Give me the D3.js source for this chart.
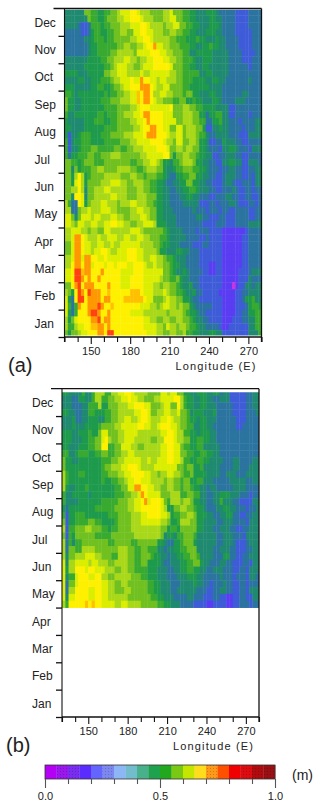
<!DOCTYPE html>
<html>
<head>
<meta charset="utf-8">
<script src="https://cdn.jsdelivr.net/npm/d3@7"></script>
<style>
  html, body { margin: 0; padding: 0; background: #fff; }
  svg { display: block; }
  text { font-family: "Liberation Sans", Arial, sans-serif; fill: #222; }
</style>
</head>
<body>
<div id="chart"></div>
<script>
const months = ["Jan", "Feb", "Mar", "Apr", "May", "Jun", "Jul", "Aug", "Sep", "Oct", "Nov", "Dec"];
const lonTicks = d3.range(130, 281, 10);
const lonLabels = [150, 180, 210, 240, 270];
const legendTicks = d3.range(0, 1.01, 0.1);
const legendLabels = [0, 0.5, 1];
const legendColors = ["#b400f5", "#9a18ee", "#7a2cf0", "#5a2cff", "#6464ff", "#7c88f0", "#8cb6f5", "#72bccb",
  "#48b08a", "#1ea24e", "#22a81e", "#78c814", "#c4e600", "#ffdc1c", "#ff9a18", "#ff5000", "#f00000", "#dc0c10", "#b00c10", "#981014"];
const stippled = [1, 2, 5, 14, 17, 18, 19];
const heatLevels = "abcdefghijklmn";
const heatColors = ["#d030e0", "#5a3cf2", "#3f5cd8", "#2b74a0", "#1f8a70", "#1e9a4c", "#38aa30", "#70c020",
  "#a8d818", "#dcee00", "#fff000", "#ffc000", "#ff9800", "#ff4010"];

// each row is level + longitude where that level ends, top row = end of December, 4 rows a month
const rowsA = [
  "e145 h148 i150 g155 f158 g163 h168 i172 j180 k183 j186 i195 h205 i209 j212 h218 g225 f230 e237 f243 e247 d258 c268 d280",
  "e143 c145 e147 h150 g155 f158 g162 h170 i175 j180 k187 j190 i197 h204 i209 j214 h219 g225 f230 e238 f244 e248 d258 c269 d280",
  "e139 d142 c146 d148 f150 g156 f160 g165 h172 i178 j186 k191 j195 i203 h207 i212 j216 h221 g226 f232 e240 f246 e250 d260 c270 d280",
  "d142 c146 d148 f151 g157 f161 g166 h172 i177 h181 j187 k192 j197 i203 h208 i213 h219 g224 f230 e236 f243 e248 d260 c271 d280",
  "d145 e149 f152 g158 f162 g167 h178 i183 j188 k194 j197 i208 h215 g222 f228 g232 f237 e243 f247 e252 d262 c271 d280",
  "d146 e149 f153 g168 h174 i180 h183 i188 j192 k196 m198 k200 j205 i210 h217 g223 f229 e233 f238 g242 f246 e252 d262 c272 d280",
  "d147 e150 f155 g165 h170 i181 h185 j195 k202 j207 i212 h219 g225 e230 f242 e253 d263 c273 d280",
  "e147 f157 g162 h167 i173 j178 i183 h187 i192 j197 k205 j209 i214 h220 g226 f230 e234 f241 e253 d264 c272 d280",
  "e145 f158 g163 h166 i170 j176 i181 h186 i190 j197 k208 j212 h219 g225 f230 e234 f240 e254 d268 c272 d280",
  "f140 e146 f160 h165 i170 j177 i186 j190 i195 j209 i213 h220 g232 e236 f241 e255 d280",
  "e140 f145 e149 f157 g163 h167 i172 j178 k182 j186 m190 k193 j198 i202 j207 i213 h219 g226 f236 e241 f246 e252 d268 e272 d280",
  "f137 e148 f155 g160 f163 g167 h171 i175 j180 k187 m193 k196 j199 i204 j209 h220 g225 f238 e250 d280",
  "g133 f136 e140 f158 g162 f165 g170 h175 i179 j183 l186 k188 m193 k197 i202 j206 i212 h218 g222 h226 f232 e238 f243 e248 d265 e270 d280",
  "h132 f136 e142 f157 g165 h172 i178 j183 l186 k189 m194 k197 j200 i205 h212 g217 h222 f226 g230 f235 e242 f246 e250 d260 e267 d280",
  "h132 f136 e141 f160 g168 h178 i183 j186 k193 j198 k200 j210 k212 h219 i225 h230 g235 f243 e255 c258 d280",
  "g132 e137 f155 g158 f162 g168 h175 i182 j187 k190 m194 k203 j212 h220 i226 h232 f236 d240 f244 g248 e255 c260 d268 c272 d280",
  "f132 e145 f152 g158 f163 g170 h178 i184 j188 k191 m195 k204 j213 h220 i226 h232 g236 d241 f246 g249 e255 d262 c265 d275 e280",
  "f133 d135 e145 f158 g168 h181 i186 j190 k194 m198 k205 j210 h214 j218 h222 i228 h233 f237 c241 e246 f250 e255 d263 c267 d275 e280",
  "f132 c135 e138 f142 g148 f156 g165 h173 i181 j188 k192 m199 k206 j209 i214 j218 h222 i228 h232 g236 e240 d244 e255 d262 c268 e280",
  "g132 c135 e137 f141 g150 f158 g172 h178 i185 j193 k203 j207 i212 h215 j220 h224 i228 h232 f236 e240 c244 d248 f252 e258 d265 c270 d280",
  "g132 c135 e138 f142 g150 h155 g166 h172 g176 h182 i188 j198 k206 j209 h213 i219 h222 i226 h231 f236 e240 d246 c250 e255 f258 e262 d268 c272 e280",
  "g132 d135 f140 g146 h152 g156 h165 i171 h186 i191 j204 k208 h211 f214 h219 i224 h228 g232 f237 e242 c247 d251 e258 d265 c270 d280",
  "h133 d135 g138 f141 g145 h152 g158 h180 g185 h190 i195 j199 i202 h205 f209 e212 g216 h220 i226 h230 f235 e240 d245 c249 e255 f258 e264 c270 e276 d280",
  "h134 e136 h138 f142 g148 h155 i160 h168 i178 h184 g188 h192 i199 h203 f207 e211 f215 g220 h226 g231 f236 e240 d246 c250 d254 e260 d264 c270 d275 e280",
  "h133 f136 i138 k141 i143 f146 g150 h158 i172 h178 i183 h188 g192 h200 g203 f207 e210 d213 f218 g224 h230 f233 e238 d243 c248 d252 e258 d263 c268 d272 c275 e280",
  "h133 f136 j138 k141 i143 f146 h157 i165 j171 i176 h181 i188 h194 g200 f203 e206 d212 e217 f222 h227 f231 e236 d241 c248 d252 e256 d260 c265 d272 c275 e280",
  "h133 g135 i138 k142 i143 e147 h152 i158 j165 i176 h183 i190 h195 g200 f203 e208 d214 e220 f224 g228 f232 e238 d245 c250 d256 e258 d262 c266 d272 c275 d280",
  "h133 f135 e137 k141 j143 e147 h151 i163 j168 i176 h183 i192 h198 g200 f204 e209 d216 e221 f227 e232 d240 c245 d252 e256 d262 c267 d272 c276 d280",
  "i132 g135 d138 k141 j143 f146 h150 i156 j162 i168 h172 i178 j183 i192 h197 g200 f203 e210 d218 e224 e232 c238 d244 c246 d254 e258 d262 c268 d273 c276 d280",
  "i133 f135 d139 h141 i146 j150 i156 j163 i170 h178 i184 j190 i194 h198 g200 f205 e212 d226 e230 d236 c240 d246 c248 d254 c260 d270 c274 d280",
  "j134 h136 e139 h142 j148 i152 j157 i163 j168 i174 h180 i186 j192 i195 h198 g200 f205 e213 d230 e235 d240 c246 d252 c260 d270 c274 d280",
  "j134 i137 h140 j145 i150 j155 i160 j165 k170 j175 i180 h184 i190 j196 i199 h200 f207 e214 d235 c245 d252 c260 d268 e280",
  "i134 j142 i147 h150 i155 h160 j165 i178 j186 i190 h203 g206 f209 e219 d228 c232 d240 c250 b266 c268 d280",
  "i133 j137 m142 k144 j147 i153 j157 i162 j168 i173 j178 i183 j188 i193 h202 g206 f209 e222 d232 c236 d240 c250 b265 c268 d280",
  "h133 j137 m142 k144 j150 i153 j158 i163 j167 i172 j186 i196 h201 g204 f208 e216 d226 c235 d240 c250 b263 c268 d280",
  "h133 j137 m142 k145 j149 i152 j157 k161 j165 i170 j177 k185 j190 i199 h202 f207 e214 f218 e224 d232 c250 b264 c268 d280",
  "i133 j137 m142 j145 m148 j150 k154 j158 k162 j176 k184 j190 i195 j200 i203 h206 g211 f215 e221 d231 c248 b264 c270 d280",
  "i133 k137 m142 k145 m149 j152 k158 j162 k166 j170 k177 j182 k188 j192 i197 j200 i204 h208 g212 f216 e222 d232 c240 b243 c248 b263 c270 d280",
  "j134 k137 n141 l143 k145 m150 k157 m158 k172 j182 k190 j195 j203 i205 h208 g212 f215 e219 f222 e225 d235 c240 b243 c250 b262 c268 d272 e280",
  "j134 k137 n141 m143 k146 m150 k153 m157 k172 j180 k188 j196 j202 i205 h210 g213 h216 f219 e223 d232 c248 b262 c268 e272 d280",
  "h133 k137 m139 n142 k145 m148 n150 m152 k162 m165 k172 j180 k190 j196 i202 h205 i208 h213 g217 f220 e224 f227 d232 c250 b257 a259 b262 c266 e272 d274 e280",
  "i132 h134 f136 k139 n142 m143 k146 n150 m157 k162 l165 k180 l186 k190 j196 i203 j206 i210 h214 g218 f222 e226 f229 d235 c247 b260 c265 d268 e280",
  "j132 f134 d136 f137 k140 n143 k146 m157 k160 m163 k175 l188 k192 j197 h203 i206 j210 i214 h218 g220 f224 e226 d232 c248 b258 c263 d267 f272 g275 e280",
  "j132 g134 d136 g138 k140 m142 k147 m154 n156 m158 k163 l166 k186 j195 i200 h202 i205 j210 i213 h216 i220 h223 f226 e230 d242 c250 b260 c266 d268 f272 g277 f280",
  "j132 f134 d136 g138 k146 m150 n153 m157 k162 m164 k178 j190 i206 h210 i218 h222 g224 f228 e232 d236 c250 b258 c264 d268 f273 g278 f280",
  "i132 f135 h137 j140 k148 l150 m155 n156 k160 m165 k188 j195 i200 h205 i209 h215 i220 h224 g227 f230 e234 d240 c250 b256 c263 d270 e273 g278 f280",
  "i132 g136 i140 j144 k150 l153 m158 k161 m165 k190 j200 i203 h207 j210 i213 h217 i222 h225 g228 f232 e236 d246 c250 b255 c270 e275 g280",
  "h132 f135 h138 i142 j147 k155 m159 k162 n166 k192 j200 i205 h210 i213 h218 i222 g226 f232 e240 f245 e250 c258 b260 c270 e277 g280"
];

// second panel only runs from December back to May
const rowsB = [
  "f135 e143 g147 e151 g155 i162 g166 i172 j177 k181 j185 i195 h203 j208 i212 j217 h221 f227 e232 f238 e244 f248 d252 e256 c268 d274 e280",
  "e137 d142 f146 e151 g155 i159 g163 h168 i173 j178 k182 j186 i191 h200 i205 j214 k218 i221 g224 f228 e233 f240 e244 d250 e256 c268 d274 e280",
  "e136 d143 e148 g157 i160 f163 h172 i178 j184 k192 j197 h203 i207 j212 h216 k219 i222 g225 f230 e235 f240 e246 d258 c269 d275 e280",
  "f134 e140 d145 e148 g153 f162 g167 h172 i185 j189 k193 j196 h201 i206 j212 i216 j220 h223 g226 e230 f236 e243 f246 d260 c268 d276 e280",
  "e136 f139 d144 e148 f157 e161 g166 h172 i177 j182 i186 j189 k193 j197 i203 j208 k211 j215 i219 h223 g227 f231 e235 f240 e246 d262 c268 d280",
  "e136 f140 e146 f156 g160 h170 i175 j186 k192 j196 i201 j205 k212 j216 i220 h224 g228 e233 f238 e245 d262 c266 d280",
  "f136 e141 f148 g152 f156 h160 j163 h171 i176 j187 i198 i204 j208 k213 j217 i221 g226 f231 e235 f241 e247 d280",
  "f136 e144 f150 g155 h159 j161 k164 i166 h171 i176 j184 i197 h201 i206 k214 j217 i221 h226 f232 g236 f241 e246 d280",
  "f135 e142 f150 g155 h158 k163 i165 g170 h175 j182 i186 h191 i203 j208 k215 j218 h222 g226 f232 g237 e248 d280",
  "g133 e138 f142 g148 f155 g160 h164 g168 h174 i178 j183 i204 j210 k215 j219 h223 g228 f233 g238 f243 e250 d280",
  "h132 f137 e142 f160 g167 h171 i177 j188 i193 j197 i202 j208 k213 j218 i221 g227 f231 g237 f241 e252 d258 e265 d275 e280",
  "h132 f158 g162 h167 i173 j178 k186 j190 i200 j216 h221 g225 h229 f233 g237 e250 d258 e265 d272 e280",
  "i131 g135 f142 g147 f160 g164 h172 i177 j181 k191 j196 i201 h205 i210 j215 i218 h222 g226 h230 f240 e250 d255 e262 d270 e280",
  "i131 g134 f158 g162 f166 g171 h176 i180 j184 k190 j196 i206 h210 i215 h219 g222 h227 f231 g236 e245 d257 e268 d275 e280",
  "i131 f134 e140 f146 g150 f168 g174 h179 j185 m190 k193 j198 i203 h208 i213 h218 g222 h226 g230 f233 e238 d242 e246 d260 e268 d280",
  "g132 e136 f148 e152 f168 g176 h181 i186 j188 m192 k194 j205 h212 i220 g224 h228 g235 e239 d243 c245 e250 f256 e265 d272 c274 d280",
  "g132 e141 f160 g172 h178 i184 j188 k191 m193 j196 k203 j206 h209 g212 i218 h222 i226 h230 f234 e238 d243 e248 g252 e258 d265 c274 e280",
  "f132 d135 f155 g170 h180 i184 j188 k204 j207 i210 f214 h218 i224 h228 g232 f236 e240 d246 e252 f256 e262 d268 c272 d276 e280",
  "g131 c134 f140 g146 f165 g172 h182 i188 j194 k203 j208 i212 f215 g219 h224 i228 h232 f238 e243 d249 e254 f258 d264 c268 d275 e280",
  "h131 c134 f140 g148 h154 g160 f168 g172 h182 i188 j204 i208 h212 f216 g220 i226 h232 f236 e246 d252 e258 d270 c272 e280",
  "i132 c134 g138 h146 i152 h158 g163 f167 g172 h182 i205 h208 f212 g216 f220 h232 f236 e244 d250 e256 d262 c266 d272 e280",
  "h131 c134 g137 f140 h154 g166 h185 i203 h206 e210 f214 e217 g222 h228 g232 e246 d252 e260 d266 c270 e280",
  "i131 d134 g137 e139 g143 h164 g168 h182 g186 h202 f206 e210 d214 f218 g222 h228 f232 e247 d252 e258 d262 c268 d272 e280",
  "i131 d134 h138 e140 g143 i155 h172 i178 h183 g188 h194 g202 e206 d209 e214 f219 g224 h232 e244 d250 e256 d262 c268 d274 e280",
  "i132 e135 h139 f140 i146 j153 i158 h166 g172 i178 h183 g190 h196 g200 f203 e208 d211 e216 f222 g226 h231 g234 e245 d252 f256 d262 c267 d272 e280",
  "j132 e135 i140 j148 i152 j157 i163 h168 i180 h184 g190 h195 f203 e207 d212 e218 f224 g228 h233 f237 e241 d248 e254 d260 c266 d272 c274 e280",
  "j132 f134 i140 k146 j150 k155 j162 i168 h173 i178 h183 g195 f202 e208 d215 e220 f224 g230 f234 e238 d244 e252 d258 c264 d270 c272 e280",
  "j132 e135 g138 j142 k148 j153 k158 i164 h170 i182 h188 g195 f202 e210 d216 e224 f232 e236 d248 e252 d258 c262 d268 c271 e276 d280",
  "j132 d135 h138 j142 k158 j165 i170 h175 i180 h193 g199 f205 e212 d220 e228 f232 e236 d242 c245 d252 e255 d258 c263 d268 c272 d280",
  "j132 d135 i138 k148 j153 k158 j163 i170 h176 i182 h195 g200 f204 e212 d216 e232 d240 c245 d250 e254 d258 c263 d268 c272 e280",
  "j132 e135 j138 k150 j155 k160 j165 i180 h197 g202 f207 e214 d225 e230 d236 c244 d250 c255 b258 c264 d270 c273 e280",
  "i132 g135 k146 l148 k152 l155 k160 j168 i175 j180 i190 h202 g206 f212 e220 d230 c240 b244 c255 b260 c264 d272 c275 d280"
];

const lonStep = 2.5;
const heatValue = (ch) => 0.2 + heatLevels.indexOf(ch) * 0.05;
const heatScale = d3.scaleThreshold()
  .domain(heatColors.slice(1).map((c, i) => 0.225 + i * 0.05))
  .range(heatColors);

function parseRow(row) {
  const runs = row.split(" ").map((s) => ({ level: s[0], end: +s.slice(1) }));
  return d3.range(130, 280, lonStep).map((lon) => {
    const run = runs.find((r) => r.end > lon) || runs[runs.length - 1];
    return { lon: lon, value: heatValue(run.level) };
  });
}

const svg = d3.select("#chart").append("svg")
  .attr("width", 320)
  .attr("height", 808);

const defs = svg.append("defs");

function drawPanel(name, rows, box, label) {
  const x = d3.scaleLinear().domain([130, 280]).range([box.left, box.right]);
  const y = d3.scaleLinear().domain([0, 12]).range([box.bottom, box.top]);
  const g = svg.append("g");

  defs.append("clipPath").attr("id", "clip" + name)
    .append("rect")
    .attr("x", box.left).attr("y", box.top + box.gap)
    .attr("width", box.right - box.left)
    .attr("height", box.bottom - box.top - box.gap - box.bottomGap);

  const heat = g.append("g")
    .attr("clip-path", "url(#clip" + name + ")")
    .append("g")
    .style("filter", "blur(0.45px)");

  rows.forEach((row, r) => {
    const t = 12 - r / 4;
    heat.append("g").selectAll("rect")
      .data(parseRow(row))
      .enter().append("rect")
      .attr("x", (d) => x(d.lon))
      .attr("y", y(t))
      .attr("width", x(lonStep + 130) - x(130) + 0.4)
      .attr("height", y(t - 0.25) - y(t) + 0.4)
      .attr("fill", (d) => heatScale(d.value));
  });

  // frame: top, right, left
  g.append("line").attr("x1", box.left - 11).attr("x2", box.right).attr("y1", box.top).attr("y2", box.top)
    .attr("stroke", "#111").attr("stroke-width", 1.3);
  g.append("line").attr("x1", box.right).attr("x2", box.right).attr("y1", box.top).attr("y2", box.bottom + 5)
    .attr("stroke", "#111").attr("stroke-width", 1.3);
  g.append("line").attr("x1", box.left).attr("x2", box.left).attr("y1", box.top).attr("y2", box.bottom + 5)
    .attr("stroke", "#111").attr("stroke-width", 1.1);

  const yAxis = g.append("g")
    .attr("transform", "translate(" + box.left + ",0)")
    .call(d3.axisLeft(y).tickValues(d3.range(0, 12)).tickSize(6).tickFormat(""));
  yAxis.select(".domain").remove();
  yAxis.selectAll("line").attr("stroke", "#111").attr("stroke-width", 1.3);

  g.selectAll(".month")
    .data(months)
    .enter().append("text")
    .attr("class", "month")
    .attr("x", box.labelX)
    .attr("y", (d, i) => y(i + 0.5) + 4.5)
    .attr("font-size", 12)
    .text((d) => d);

  const xAxis = g.append("g")
    .attr("transform", "translate(0," + box.bottom + ")")
    .call(d3.axisBottom(x).tickValues(lonTicks).tickSize(5)
      .tickFormat((d) => lonLabels.includes(d) ? d : ""));
  xAxis.select(".domain").attr("stroke", "#111").attr("stroke-width", 1.3).attr("d", "M" + box.left + ",0H" + box.right);
  xAxis.selectAll("line").attr("stroke", "#111").attr("stroke-width", 1.1)
    .attr("y2", (d) => lonLabels.includes(d) ? 7 : 5);
  xAxis.selectAll("text").attr("y", 10).attr("font-size", 11).style("font-family", "inherit");

  g.append("text")
    .attr("x", box.right - 86).attr("y", box.bottom + 33)
    .attr("font-size", 11).attr("letter-spacing", 1.15)
    .text("Longitude (E)");

  g.append("text")
    .attr("x", box.labelLetterX).attr("y", box.bottom + 35)
    .attr("font-size", 20)
    .text(label);
}

drawPanel("A", rowsA, { left: 64.5, right: 261.5, top: 8.5, bottom: 337, gap: 1.2, bottomGap: 1.5, labelX: 34.5, labelLetterX: 8 }, "(a)");
drawPanel("B", rowsB, { left: 62, right: 259, top: 388.7, bottom: 717, gap: 3.6, bottomGap: 0, labelX: 32, labelLetterX: 6 }, "(b)");

// colour bar
const legendX = d3.scaleLinear().domain([0, 1]).range([45, 275]);
const legendBar = svg.append("g");
const legendTop = 765, legendBottom = 779;

stippled.forEach((i) => {
  const p = defs.append("pattern").attr("id", "stip" + i)
    .attr("width", 3).attr("height", 3)
    .attr("patternUnits", "userSpaceOnUse");
  p.append("rect").attr("width", 3).attr("height", 3).attr("fill", legendColors[i]);
  p.append("rect").attr("width", 1).attr("height", 1)
    .attr("fill", d3.color(legendColors[i]).darker(0.6).formatHex());
});

legendBar.selectAll("rect")
  .data(legendColors)
  .enter().append("rect")
  .attr("x", (d, i) => legendX(i / 20))
  .attr("y", legendTop)
  .attr("width", legendX(0.05) - legendX(0) + 0.3)
  .attr("height", legendBottom - legendTop)
  .attr("fill", (d, i) => stippled.includes(i) ? "url(#stip" + i + ")" : d);

legendBar.append("rect")
  .attr("x", legendX(0)).attr("y", legendTop)
  .attr("width", legendX(1) - legendX(0)).attr("height", legendBottom - legendTop)
  .attr("fill", "none").attr("stroke", "#333").attr("stroke-width", 0.8);

const legendAxis = legendBar.append("g")
  .attr("transform", "translate(0," + legendBottom + ")")
  .call(d3.axisBottom(legendX).tickValues(legendTicks).tickSize(5)
    .tickFormat((d) => legendLabels.some((v) => Math.abs(v - d) < 1e-6) ? d3.format(".1f")(d) : ""));
legendAxis.select(".domain").remove();
legendAxis.selectAll("line").attr("stroke", "#555").attr("stroke-width", 1.1)
  .attr("y2", (d) => legendLabels.some((v) => Math.abs(v - d) < 1e-6) ? 9 : 5);
legendAxis.selectAll("text").attr("y", 13).attr("font-size", 11).style("font-family", "inherit");

svg.append("text")
  .attr("x", 292).attr("y", 780)
  .attr("font-size", 14)
  .text("(m)");
</script>
</body>
</html>
